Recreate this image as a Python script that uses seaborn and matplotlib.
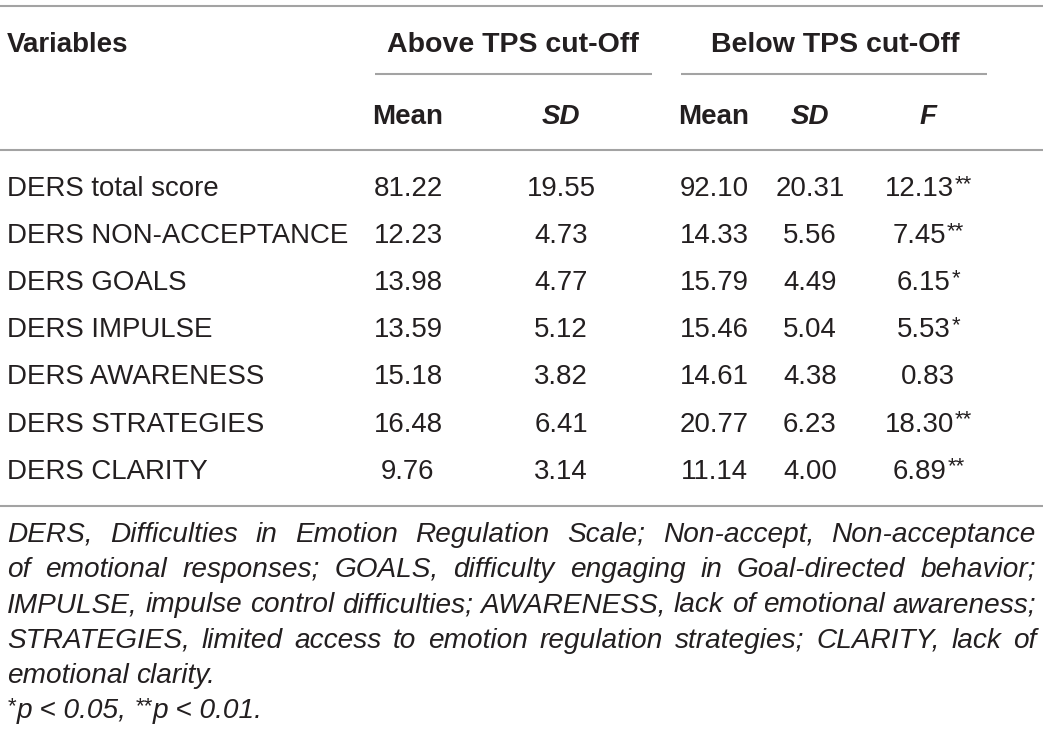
import matplotlib
matplotlib.use("Agg")
import matplotlib.pyplot as plt
import seaborn as sns
import pandas as pd

# table content
variables = ["DERS total score", "DERS NON-ACCEPTANCE", "DERS GOALS",
             "DERS IMPULSE", "DERS AWARENESS", "DERS STRATEGIES", "DERS CLARITY"]
above_mean = ["81.22", "12.23", "13.98", "13.59", "15.18", "16.48", "9.76"]
above_sd = ["19.55", "4.73", "4.77", "5.12", "3.82", "6.41", "3.14"]
below_mean = ["92.10", "14.33", "15.79", "15.46", "14.61", "20.77", "11.14"]
below_sd = ["20.31", "5.56", "4.49", "5.04", "4.38", "6.23", "4.00"]
f_value = ["12.13", "7.45", "6.15", "5.53", "0.83", "18.30", "6.89"]
f_stars = ["**", "**", "*", "*", "", "**", "**"]

group_headers = ["Above TPS cut-Off", "Below TPS cut-Off"]
sub_headers = ["Mean", "SD", "Mean", "SD", "F"]
sub_italic = [False, True, False, True, True]

footnote = [
    "DERS, Difficulties in Emotion Regulation Scale; Non-accept, Non-acceptance",
    "of emotional responses; GOALS, difficulty engaging in Goal-directed behavior;",
    "IMPULSE, impulse control difficulties; AWARENESS, lack of emotional awareness;",
    "STRATEGIES, limited access to emotion regulation strategies; CLARITY, lack of",
    "emotional clarity.",
]
footnote_justify = [True, True, True, True, False]

df = pd.DataFrame({"var": variables, "m1": above_mean, "sd1": above_sd,
                   "m2": below_mean, "sd2": below_sd, "f": f_value,
                   "stars": f_stars})

sns.set_theme(style="white")
plt.rcParams["font.family"] = ["Liberation Sans", "DejaVu Sans"]

W, H = 1043, 740
fig = plt.figure(figsize=(W / 100, H / 100), dpi=100)
ax = fig.add_axes([0, 0, 1, 1])
ax.set_xlim(0, W)
ax.set_ylim(H, 0)
ax.axis("off")
renderer = fig.canvas.get_renderer()

ink = "#231f20"
rule = "#a3a3a3"
body = 19.9
star_scale = 0.8


def width(s, **kw):
    t = ax.text(0, 0, s, **kw)
    w = t.get_window_extent(renderer).width
    t.remove()
    return w


def centered_with_stars(cx, y, num, stars, size):
    wn = width(num, fontsize=size)
    ws = width(stars, fontsize=size * star_scale) if stars else 0
    x0 = cx - (wn + ws) / 2
    ax.text(x0, y, num, fontsize=size, color=ink, ha="left", va="baseline")
    if stars:
        ax.text(x0 + wn + 1, y - 6, stars, fontsize=size * star_scale,
                color=ink, ha="left", va="baseline")


# rules
ax.hlines([5.5, 150, 505.5], 0, W, color=rule, lw=1.5)
ax.hlines([74, 74], [375, 681], [652, 987], color=rule, lw=1.5)

# headers
ax.text(7, 52, "Variables", fontsize=20, fontweight="bold", color=ink,
        va="baseline")
for cx, lab in zip([513, 835], group_headers):
    ax.text(cx, 52, lab, fontsize=20.5, fontweight="bold", color=ink,
            ha="center", va="baseline")
col_x = [408, 561, 714, 810, 928]
for cx, lab, it in zip(col_x, sub_headers, sub_italic):
    ax.text(cx, 124, lab, fontsize=20, fontweight="bold",
            fontstyle="italic" if it else "normal", color=ink,
            ha="center", va="baseline")

# body rows
for i, row in df.iterrows():
    y = 196 + 47.1 * i
    ax.text(7, y, row["var"], fontsize=body, color=ink, va="baseline")
    for cx, key in zip(col_x[:4], ["m1", "sd1", "m2", "sd2"]):
        ax.text(cx, y, row[key], fontsize=body, color=ink, ha="center",
                va="baseline")
    centered_with_stars(col_x[4], y, row["f"], row["stars"], body)

# footnote size: widest justified line should just fit
left, right = 7, 1036
foot = 17.4
widest = max(width(l, fontsize=foot, fontstyle="italic")
             for l, j in zip(footnote, footnote_justify) if j)
foot = foot * (right - left - 4) / widest

fkw = dict(fontsize=foot, fontstyle="italic", color=ink)
space = width("a a", **fkw) - width("aa", **fkw)
for j, (line, just) in enumerate(zip(footnote, footnote_justify)):
    y = 541.7 + 35.3 * j
    words = line.split(" ")
    ws = [width(w, **fkw) for w in words]
    gap = (right - left - sum(ws)) / (len(words) - 1) if just else space
    x = left
    for w, wd in zip(words, ws):
        ax.text(x, y, w, va="baseline", ha="left", **fkw)
        x += wd + gap

# significance line
y = 541.7 + 35.3 * 5
x = left
parts = [("*", True), ("p < 0.05,", False), (" ", None), ("**", True),
         ("p < 0.01.", False)]
for txt, sup in parts:
    if sup is None:
        x += space
        continue
    kw = dict(fkw)
    yy = y
    if sup:
        kw["fontsize"] = foot * star_scale
        yy = y - 6
    ax.text(x, yy, txt, va="baseline", ha="left", **kw)
    x += width(txt, **kw) + (1 if sup else 0)

fig.savefig("out.png", dpi=100)
